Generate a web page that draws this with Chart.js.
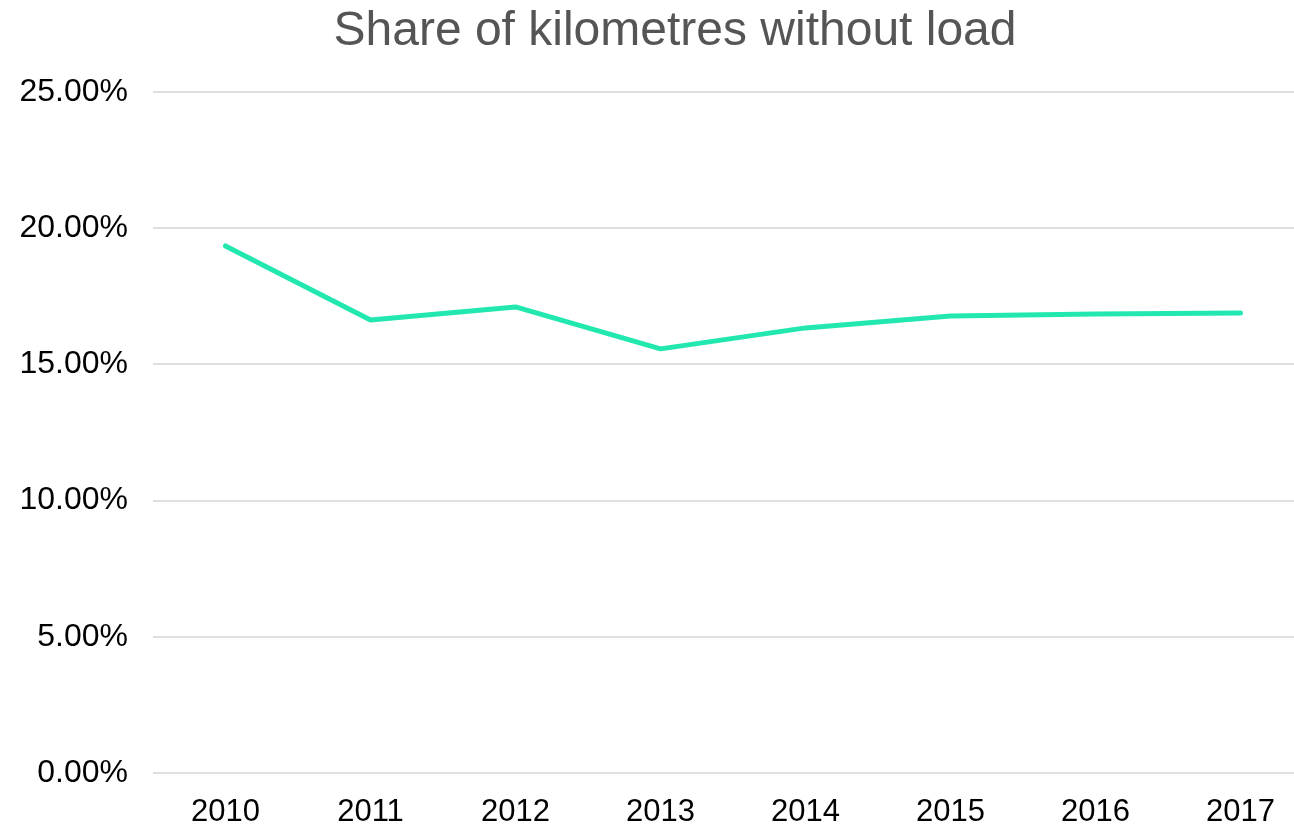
<!DOCTYPE html>
<html><head><meta charset="utf-8">
<script src="https://cdn.jsdelivr.net/npm/chart.js@4"></script>
<style>html,body{margin:0;padding:0;background:#fff;overflow:hidden}#w{width:1313px;height:826px}</style>
</head><body><div id="w"><canvas id="c"></canvas></div>
<script>
const years = ['2010','2011','2012','2013','2014','2015','2016','2017'];
const shareWithoutLoad = [19.35, 16.63, 17.11, 15.57, 16.34, 16.78, 16.85, 16.89];
const yTicks = [0, 5, 10, 15, 20, 25];
const titleText = 'Share of kilometres without load';

const titlePlugin = {
  id: 'ownTitle',
  afterDraw(chart) {
    const ctx = chart.ctx;
    ctx.save();
    ctx.font = 'normal 48px "Liberation Sans", Arial, sans-serif';
    ctx.fillStyle = '#555555';
    ctx.textAlign = 'center';
    ctx.textBaseline = 'alphabetic';
    ctx.fillText(titleText, 675, 45);
    ctx.restore();
  }
};

new Chart(document.getElementById('c'), {
  type: 'line',
  data: { labels: years, datasets: [{
    data: shareWithoutLoad, borderColor: '#22e8b0', borderWidth: 5,
    pointRadius: 0, tension: 0, fill: false, borderCapStyle: 'round', borderJoinStyle: 'round'
  }]},
  plugins: [titlePlugin],
  options: {
    responsive: true, maintainAspectRatio: false, animation: false,
    layout: { padding: { top: 92, right: 0, left: 0, bottom: 0 } },
    plugins: {
      legend: { display: false }, tooltip: { enabled: false },
      title: { display: false }
    },
    scales: {
      x: { offset: true, grid: { display: false, drawTicks: false }, border: { display: false },
        afterFit: s => { s.height = 53; },
        ticks: { color: '#000', padding: 21, maxRotation: 0, autoSkip: false,
          font: { family: 'Liberation Sans, Arial, sans-serif', size: 31 } } },
      y: { min: 0, max: 25, grid: { color: '#e0e0e0', lineWidth: 2, drawTicks: false }, border: { display: false },
        afterBuildTicks: s => { s.ticks = yTicks.map(v => ({ value: v })); },
        afterFit: s => { s.width = 153; },
        ticks: { color: '#000', padding: 25,
          font: { family: 'Liberation Sans, Arial, sans-serif', size: 32 },
          callback: v => Number(v).toFixed(2) + '%' } }
    }
  }
});
</script></body></html>
